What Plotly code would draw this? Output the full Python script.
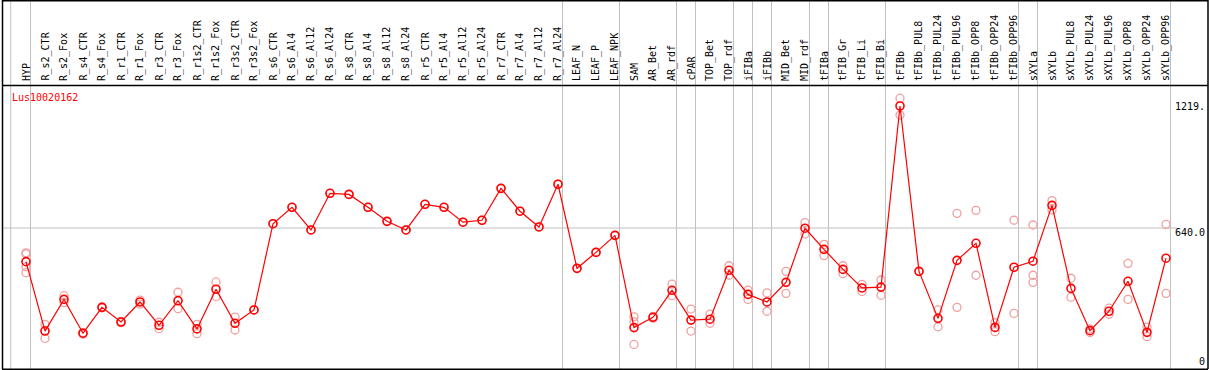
import plotly.graph_objects as go

categories = ["HYP", "R_s2_CTR", "R_s2_Fox", "R_s4_CTR", "R_s4_Fox", "R_r1_CTR", "R_r1_Fox",
              "R_r3_CTR", "R_r3_Fox", "R_r1s2_CTR", "R_r1s2_Fox", "R_r3s2_CTR", "R_r3s2_Fox",
              "R_s6_CTR", "R_s6_Al4", "R_s6_Al12", "R_s6_Al24", "R_s8_CTR", "R_s8_Al4", "R_s8_Al12",
              "R_s8_Al24", "R_r5_CTR", "R_r5_Al4", "R_r5_Al12", "R_r5_Al24", "R_r7_CTR", "R_r7_Al4",
              "R_r7_Al12", "R_r7_Al24", "LEAF_N", "LEAF_P", "LEAF_NPK", "SAM", "AR_Bet", "AR_rdf",
              "cPAR", "TOP_Bet", "TOP_rdf", "iFIBa", "iFIBb", "MID_Bet", "MID_rdf", "tFIBa",
              "tFIB_Gr", "tFIB_Li", "tFIB_Bi", "tFIBb", "tFIBb_PUL8", "tFIBb_PUL24", "tFIBb_PUL96",
              "tFIBb_OPP8", "tFIBb_OPP24", "tFIBb_OPP96", "sXYLa", "sXYLb", "sXYLb_PUL8",
              "sXYLb_PUL24", "sXYLb_PUL96", "sXYLb_OPP8", "sXYLb_OPP24", "sXYLb_OPP96"]

mean_values = [484, 162, 309, 152, 272, 204, 297, 189, 303, 172, 356, 198, 260,
               660, 736, 631, 801, 796, 736, 671, 631, 750, 736, 667, 676, 824, 718, 645, 843,
               453, 527, 606, 178, 226, 351, 213, 217, 444, 332, 297, 388, 639, 541, 448, 362, 366,
               1206, 439, 221, 490, 569, 179, 458, 486, 745, 360, 164, 254, 393, 156, 500]

replicates = [
    [525, 520, 460, 433], [193, 128, 165], [326, 294], [155, 148], [274, 270], [207, 201],
    [306, 287], [203, 173], [342, 266], [193, 150], [390, 322], [227, 167], [260],
    [660], [736], [631], [801], [796], [736], [671], [631], [750], [736], [667], [676],
    [824], [718], [645], [843], [453], [527], [606],
    [228, 205, 100], [230, 222], [380, 326], [264, 162], [241, 198], [465, 421], [352, 309],
    [339, 254], [439, 337], [665, 612], [564, 512], [465, 428], [379, 346], [399, 328],
    [1242, 1164], [439], [260, 182], [708, 272], [722, 421], [201, 159], [676, 244],
    [654, 421, 388], [767, 724], [407, 319], [155, 172], [268, 240], [476, 309], [136, 180],
    [657, 337]
]

group_boundaries = [0, 28, 31, 34, 35, 37, 38, 39, 41, 42, 45, 52, 53, 60]
y_tick_values = [1219, 640, 0]
y_tick_labels = ["1219.", "640.0", "0"]
gene_name = "Lus10020162"

W, H = 1209, 370
X0, DX = 26.0, 19.0            # pixel of category 0 and spacing
Y0, SY = 366.0, 0.2156         # pixel of value 0 and px per unit


def px_to_x(p):
    return (p - X0) / DX


def py_to_v(p):
    return (Y0 - p) / SY


xs = list(range(len(categories)))
rep_x, rep_y = [], []
for i, reps in enumerate(replicates):
    for v in reps:
        rep_x.append(i)
        rep_y.append(v)

fig = go.Figure()

fig.add_trace(go.Scatter(
    x=rep_x, y=rep_y, mode="markers",
    marker=dict(symbol="circle-open", size=8, color="#f0a0a0", line=dict(width=1.3, color="#f0a0a0")),
    hoverinfo="skip", showlegend=False))

fig.add_trace(go.Scatter(
    x=xs, y=mean_values, mode="lines+markers",
    line=dict(color="#ff0000", width=1.2),
    marker=dict(symbol="circle-open", size=8, color="#ff0000", line=dict(width=1.6, color="#ff0000")),
    hovertext=categories, showlegend=False))

shapes = []
gray = "#c0c0c0"
vlines = [px_to_x(10.7)] + [b + 4.5 / DX for b in group_boundaries]
for xv in vlines:
    shapes.append(dict(type="line", xref="x", yref="paper", x0=xv, x1=xv, y0=0, y1=1,
                       line=dict(color=gray, width=1), layer="below"))
shapes.append(dict(type="line", xref="x", yref="y", x0=px_to_x(2), x1=px_to_x(1177),
                   y0=640, y1=640, line=dict(color=gray, width=1), layer="below"))
blk = "#000000"


def hline(py):
    yv = (H - py) / H
    return dict(type="line", xref="paper", yref="paper", x0=2 / W, x1=1208 / W, y0=yv, y1=yv,
                line=dict(color=blk, width=1.5))


def vline(px):
    xv = px / W
    return dict(type="line", xref="paper", yref="paper", x0=xv, x1=xv, y0=1 / H, y1=1,
                line=dict(color=blk, width=1.5))


shapes += [hline(0.75), hline(85.5), hline(369.2), vline(2.5), vline(1208)]

annotations = []
for i, c in enumerate(categories):
    annotations.append(dict(x=i, y=(H - 83) / H, xref="x", yref="paper", text=c, textangle=-90,
                            xanchor="center", yanchor="bottom", showarrow=False,
                            font=dict(family="DejaVu Sans Mono", size=10, color="#000000")))
annotations.append(dict(x=10 / W, y=(H - 97) / H, xref="paper", yref="paper", text=gene_name,
                        xanchor="left", yanchor="middle", showarrow=False,
                        font=dict(family="DejaVu Sans Mono", size=10, color="#ff0000")))
label_py = [106.7, 232, 361.7]
for v, t, lp in zip(y_tick_values, y_tick_labels, label_py):
    annotations.append(dict(x=1207 / W, y=(H - lp) / H, xref="paper", yref="paper", text=t,
                            xanchor="right", yanchor="middle", showarrow=False,
                            font=dict(family="DejaVu Sans Mono", size=10, color="#000000")))

fig.update_layout(
    width=W, height=H, margin=dict(l=0, r=0, t=0, b=0),
    paper_bgcolor="white", plot_bgcolor="white",
    xaxis=dict(range=[px_to_x(0), px_to_x(W)], visible=False, showgrid=False, zeroline=False),
    yaxis=dict(range=[py_to_v(H), py_to_v(0)], visible=False, showgrid=False, zeroline=False),
    shapes=shapes, annotations=annotations, showlegend=False,
)

fig.write_html("out.html", config={"displayModeBar": False},
               post_script="document.body.style.margin='0';document.body.style.overflow='hidden';")
